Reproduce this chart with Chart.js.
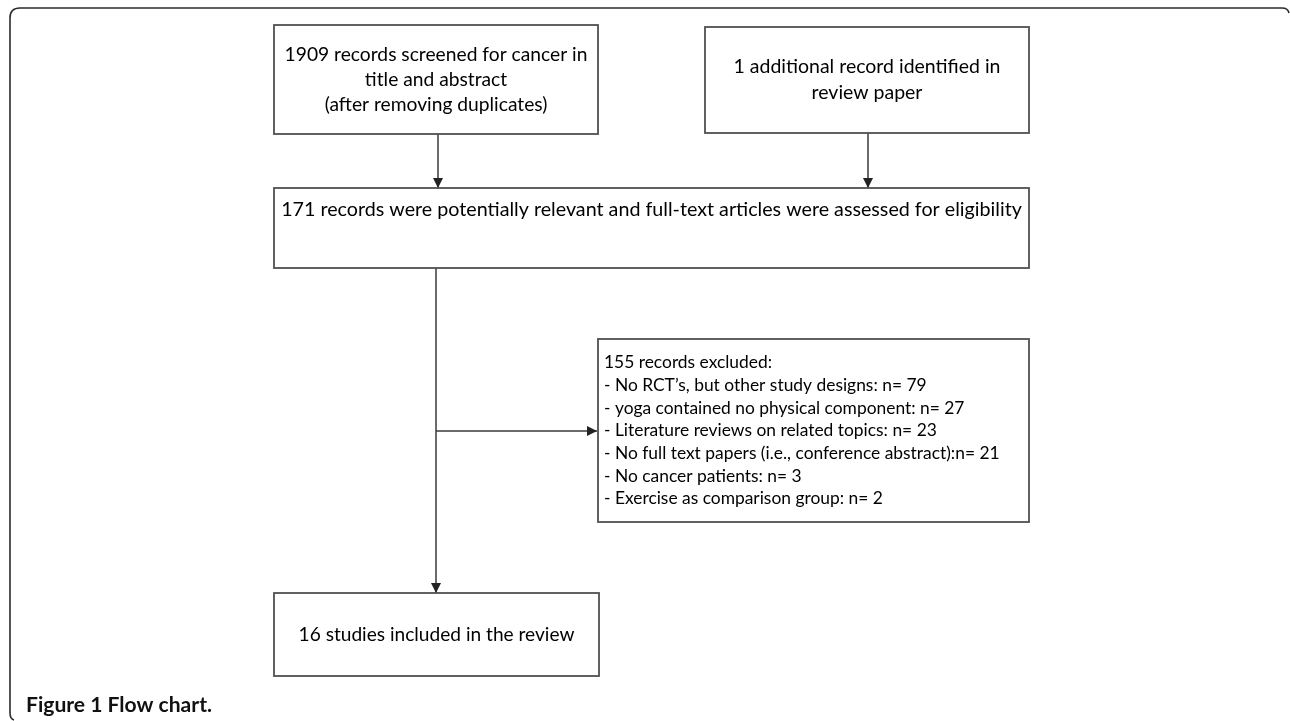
<!DOCTYPE html>
<html>
<head>
<meta charset="utf-8">
<script src="https://cdn.jsdelivr.net/npm/chart.js@4.4.1/dist/chart.umd.min.js"></script>
<style>
    html, body { margin: 0; padding: 0; background: #fff; }
    #wrap { width: 1290px; height: 721px; position: relative; }
</style>
</head>
<body>
<div id="wrap"><canvas id="flow"></canvas></div>
<script>
//region Данные схемы
const screened = 1909;
const additional = 1;
const relevant = 171;
const excluded = 155;
const included = 16;
const reasons = [
    "No RCT\u2019s, but other study designs: n= ",
    "yoga contained no physical component: n= ",
    "Literature reviews on related topics: n= ",
    "No full text papers (i.e., conference abstract):n= ",
    "No cancer patients: n= ",
    "Exercise as comparison group: n= "
];
const reasonCounts = [79, 27, 23, 21, 3, 2];
const caption = ["Figure 1", " Flow chart."];

const boxTexts = [
    [screened + " records screened for cancer in", "title and abstract", "(after removing duplicates)"],
    [additional + " additional record identified in", "review paper"],
    [relevant + " records were potentially relevant and full-text articles were assessed for eligibility"],
    [included + " studies included in the review"],
    [excluded + " records excluded:"].concat(reasons.map((r, i) => "- " + r + reasonCounts[i]))
];
//endregion

//region Раскладка (в единицах шкал)
const layout = [
    {x0: 274, x1: 598, y0: 25, y1: 134, lines: [55, 80, 105], align: 'center', fit: [0, 303]},
    {x0: 705, x1: 1029, y0: 27, y1: 133, lines: [67, 93], align: 'center', fit: [0, 267]},
    {x0: 274, x1: 1029, y0: 188, y1: 268, lines: [210], align: 'center', fit: [0, 741]},
    {x0: 274, x1: 599, y0: 593, y1: 676, lines: [635], align: 'center', fit: [0, 276]},
    {x0: 598, x1: 1029, y0: 339, y1: 522, lines: [362, 385, 408, 430, 453, 476, 498], align: 'left', textX: 604, fit: [3, 333]}
];
const links = [
    [[438, 134], [438, 188]],
    [[868, 133], [868, 188]],
    [[436, 268], [436, 593]],
    [[436, 431], [597, 431]]
];
const FONT = "Lato, 'Open Sans', sans-serif";
//endregion

function fitSize(c, text, target, weight) {
    c.font = weight + " 20px " + FONT;
    return 20 * target / c.measureText(text).width;
}

const flowPlugin = {
    id: 'flow',
    afterDraw(chart) {
        const c = chart.ctx;
        const sx = chart.scales.x, sy = chart.scales.y;
        const X = v => sx.getPixelForValue(v);
        const Y = v => sy.getPixelForValue(v);
        c.save();

        // рамка рисунка
        c.strokeStyle = '#2b2b2b';
        c.lineWidth = 1.6;
        c.beginPath();
        c.moveTo(X(1289), Y(13));
        c.quadraticCurveTo(X(1288), Y(8), X(1282), Y(8));
        c.lineTo(X(20), Y(8));
        c.quadraticCurveTo(X(10), Y(8), X(10), Y(18));
        c.lineTo(X(10), Y(713));
        c.quadraticCurveTo(X(10), Y(719), X(14), Y(720));
        c.stroke();

        // связи
        c.strokeStyle = '#3a3a3a';
        c.fillStyle = '#222';
        c.lineWidth = 1.5;
        links.forEach(l => {
            const [a, b] = l;
            c.beginPath();
            c.moveTo(X(a[0]), Y(a[1]));
            c.lineTo(X(b[0]), Y(b[1]));
            c.stroke();
            const ang = Math.atan2(Y(b[1]) - Y(a[1]), X(b[0]) - X(a[0]));
            const len = 10, w = 5;
            const tx = X(b[0]), ty = Y(b[1]);
            c.beginPath();
            c.moveTo(tx, ty);
            c.lineTo(tx - len * Math.cos(ang) + w * Math.sin(ang), ty - len * Math.sin(ang) - w * Math.cos(ang));
            c.lineTo(tx - len * Math.cos(ang) - w * Math.sin(ang), ty - len * Math.sin(ang) + w * Math.cos(ang));
            c.closePath();
            c.fill();
        });

        // блоки
        layout.forEach((b, i) => {
            c.strokeStyle = '#505050';
            c.lineWidth = 1.8;
            c.strokeRect(X(b.x0), Y(b.y0), X(b.x1) - X(b.x0), Y(b.y1) - Y(b.y0));
            const txt = boxTexts[i];
            const size = fitSize(c, txt[b.fit[0]], b.fit[1], 'normal');
            c.font = size.toFixed(2) + "px " + FONT;
            c.fillStyle = '#000';
            c.textBaseline = 'middle';
            c.textAlign = b.align;
            const tx = b.align === 'center' ? X((b.x0 + b.x1) / 2) : X(b.textX);
            txt.forEach((t, k) => c.fillText(t, tx, Y(b.lines[k])));
        });

        // подпись
        const bs = fitSize(c, caption[0] + caption[1], 186, 'bold');
        c.font = "bold " + bs.toFixed(2) + "px " + FONT;
        c.fillStyle = '#111';
        c.textAlign = 'left';
        c.textBaseline = 'middle';
        c.fillText(caption[0] + caption[1], X(26), Y(705));
        c.restore();
    }
};

const ctx = document.getElementById('flow');
let chart = new Chart(ctx, {
    type: 'scatter',
    data: {
        datasets: [{
            data: layout.map(b => ({x: (b.x0 + b.x1) / 2, y: (b.y0 + b.y1) / 2})),
            pointRadius: 0
        }]
    },
    options: {
        responsive: true,
        maintainAspectRatio: false,
        animation: false,
        layout: {padding: 0},
        plugins: {legend: {display: false}, tooltip: {enabled: false}},
        scales: {
            x: {type: 'linear', min: 0, max: 1290, display: false},
            y: {type: 'linear', min: 0, max: 721, reverse: true, display: false}
        }
    },
    plugins: [flowPlugin]
});
</script>
</body>
</html>
